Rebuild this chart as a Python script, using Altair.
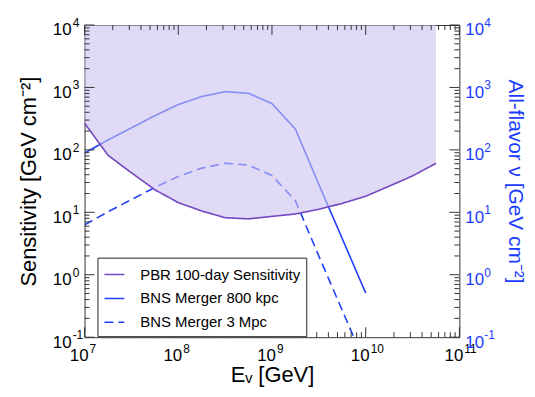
import altair as alt
import pandas as pd

# ---- data ----
E_SENS = [1.0e7, 1.78e7, 3.16e7, 5.62e7, 1.0e8, 1.78e8, 3.16e8, 5.62e8,
          1.0e9, 1.78e9, 3.16e9, 5.62e9, 1.0e10, 1.78e10, 3.16e10, 5.62e10]
SENS = [268, 82, 43, 23, 14.3, 10.5, 8.2, 7.85,
        8.6, 9.4, 11.2, 13.9, 18.1, 26.2, 38.3, 60.8]

E_BNS = [1.0e7, 1.78e7, 3.16e7, 5.62e7, 1.0e8, 1.78e8, 3.16e8, 5.62e8,
         1.0e9, 1.78e9, 3.16e9, 5.62e9, 1.0e10]
BNS_800KPC = [89, 144, 225, 353, 532, 714, 857, 805, 550, 215, 28, 3.8, 0.51]
BNS_3MPC = [6.3, 10.2, 16, 25, 37.5, 51, 61, 57, 39, 15.3, 2.0, 0.27, 0.036]

SERIES = ["PBR 100-day Sensitivity", "BNS Merger 800 kpc", "BNS Merger 3 Mpc"]

X_MAJOR = [1e7, 1e8, 1e9, 1e10, 1e11]
X_EXP = ["7", "8", "9", "10", "11"]
Y_MAJOR = [0.1, 1, 10, 100, 1000, 10000]
Y_EXP = ["-1", "0", "1", "2", "3", "4"]
MINOR_MULT = [2, 3, 4, 5, 6, 7, 8, 9]
X_DECADES = [1e7, 1e8, 1e9, 1e10]
Y_DECADES = [0.1, 1, 10, 100, 1000]
X_MINOR = [m * d for d in X_DECADES for m in MINOR_MULT]
Y_MINOR = [m * d for d in Y_DECADES for m in MINOR_MULT]

# ---- styling ----
W, H = 377, 314
FONT = "Liberation Sans"
PURPLE = "#7446c0"
BLUE = "#2040f8"
LABEL_BLUE = "#1a3cff"
FILL = "#cbc2f0"
AXIS_COL = "#333333"

xs = alt.Scale(type="log", domain=[1e7, 1e11], nice=False)
ys = alt.Scale(type="log", domain=[0.1, 1e4], nice=False)

color = alt.Color("series:N", scale=alt.Scale(domain=SERIES, range=[PURPLE, BLUE, BLUE]),
                  legend=alt.Legend(title=None))
dash = alt.StrokeDash("series:N", scale=alt.Scale(domain=SERIES, range=[[1, 0], [1, 0], [9, 5]]),
                      legend=alt.Legend(title=None))

df_bns = pd.DataFrame({
    "E": E_BNS + E_BNS,
    "v": BNS_800KPC + BNS_3MPC,
    "series": [SERIES[1]] * len(E_BNS) + [SERIES[2]] * len(E_BNS),
})
df_sens = pd.DataFrame({"E": E_SENS, "v": SENS, "series": [SERIES[0]] * len(E_SENS)})

bns = alt.Chart(df_bns).mark_line(strokeWidth=1.6, clip=True).encode(
    x=alt.X("E:Q", scale=xs, axis=alt.Axis(title="Eᵥ [GeV]", labels=False, ticks=False,
                                           domain=False, grid=False, titleFontSize=22,
                                           titleFontWeight="normal", titleColor="black",
                                           titlePadding=28)),
    y=alt.Y("v:Q", scale=ys, axis=alt.Axis(title="Sensitivity [GeV cm⁻²]", labels=False,
                                           ticks=False, domain=False, grid=False,
                                           titleFontSize=22, titleFontWeight="normal",
                                           titleColor="black", titlePadding=44)),
    color=color,
    strokeDash=dash,
)

area = alt.Chart(df_sens).mark_area(color=FILL, opacity=0.6).encode(
    x=alt.X("E:Q", scale=xs, axis=None),
    y=alt.Y("v:Q", scale=ys, axis=None),
    y2=alt.datum(10000),
)

sens = alt.Chart(df_sens).mark_line(strokeWidth=1.6).encode(
    x=alt.X("E:Q", scale=xs, axis=None),
    y=alt.Y("v:Q", scale=ys, axis=None),
    color=color,
    strokeDash=dash,
)


def xticks(vals, length):
    d = pd.DataFrame({"t": vals})
    base = alt.Chart(d).mark_rule(color=AXIS_COL, strokeWidth=1)
    bottom = base.encode(x=alt.X("t:Q", scale=xs, axis=None), y=alt.value(H), y2=alt.value(H - length))
    top = base.encode(x=alt.X("t:Q", scale=xs, axis=None), y=alt.value(0), y2=alt.value(length))
    return [bottom, top]


def yticks(vals, length):
    d = pd.DataFrame({"t": vals})
    base = alt.Chart(d).mark_rule(color=AXIS_COL, strokeWidth=1)
    left = base.encode(y=alt.Y("t:Q", scale=ys, axis=None), x=alt.value(0), x2=alt.value(length))
    right = base.encode(y=alt.Y("t:Q", scale=ys, axis=None), x=alt.value(W), x2=alt.value(W - length))
    return [left, right]


tick_layers = xticks(X_MAJOR, 10) + xticks(X_MINOR, 5) + yticks(Y_MAJOR, 10) + yticks(Y_MINOR, 5)

df_xl = pd.DataFrame({"t": X_MAJOR, "exp": X_EXP})
df_yl = pd.DataFrame({"t": Y_MAJOR, "exp": Y_EXP})

x_ten = alt.Chart(df_xl).mark_text(text="10", align="right", baseline="alphabetic", dx=4,
                                    fontSize=17, color="black").encode(
    x=alt.X("t:Q", scale=xs, axis=None), y=alt.value(H + 24))
x_exp = alt.Chart(df_xl).mark_text(align="left", baseline="alphabetic", dx=5,
                                    fontSize=12, color="black").encode(
    x=alt.X("t:Q", scale=xs, axis=None), y=alt.value(H + 16), text="exp:N")

yl_ten = alt.Chart(df_yl).mark_text(text="10", align="right", baseline="alphabetic", dy=10.5,
                                     fontSize=17, color="black").encode(
    y=alt.Y("t:Q", scale=ys, axis=None), x=alt.value(-13))
yl_exp = alt.Chart(df_yl).mark_text(align="left", baseline="alphabetic", dy=2,
                                     fontSize=12, color="black").encode(
    y=alt.Y("t:Q", scale=ys, axis=None), x=alt.value(-12), text="exp:N")

yr_ten = alt.Chart(df_yl).mark_text(text="10", align="left", baseline="alphabetic", dy=10.5,
                                     fontSize=17, color=LABEL_BLUE).encode(
    y=alt.Y("t:Q", scale=ys, axis=alt.Axis(orient="right", title="All-flavor ν [GeV cm⁻²]",
                                           labels=False, ticks=False, domain=False, grid=False,
                                           titleFontSize=21, titleFontWeight="normal",
                                           titleColor=LABEL_BLUE, titlePadding=45)),
    x=alt.value(W + 6))
yr_exp = alt.Chart(df_yl).mark_text(align="left", baseline="alphabetic", dy=2,
                                     fontSize=12, color=LABEL_BLUE).encode(
    y=alt.Y("t:Q", scale=ys, axis=None), x=alt.value(W + 25), text="exp:N")

chart = alt.layer(
    bns, area, sens, *tick_layers, x_ten, x_exp, yl_ten, yl_exp, yr_ten, yr_exp
).resolve_axis(
    x="independent", y="independent"
).properties(
    width=W, height=H,
    padding={"left": 77, "top": 16, "right": 68, "bottom": 51},
    autosize=alt.AutoSizeParams(type="none"),
).configure(
    font=FONT,
).configure_view(
    stroke=AXIS_COL, strokeWidth=1,
).configure_legend(
    orient="none", legendX=13, legendY=234,
    strokeColor="#222222", fillColor="white", padding=6,
    labelFontSize=15, labelFont=FONT, labelColor="black", labelLimit=300,
    symbolType="stroke", symbolSize=400, symbolStrokeWidth=1.6,
    labelOffset=15, rowPadding=5, cornerRadius=0,
)

chart.save("out.html", embed_options={"renderer": "svg", "actions": False})
